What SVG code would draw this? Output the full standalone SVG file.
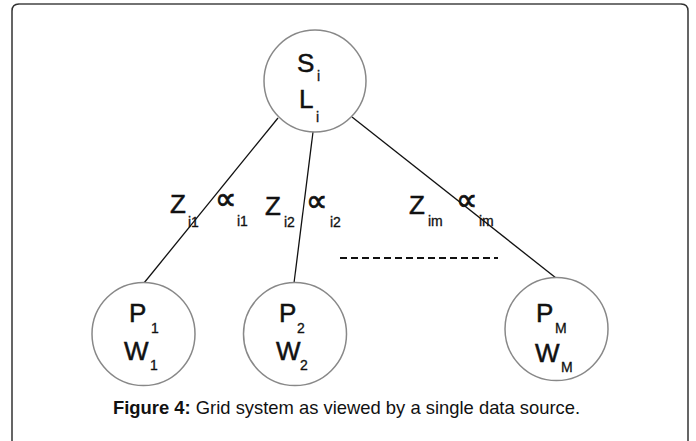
<svg xmlns="http://www.w3.org/2000/svg" width="696" height="441" viewBox="0 0 696 441">
<style>
.node{fill:#fff;stroke:#888;stroke-width:1.5}
.big{font-family:"Liberation Sans",Arial,sans-serif;font-size:26px;fill:#111;stroke:#111;stroke-width:0.5}
.sub{font-family:"Liberation Sans",Arial,sans-serif;font-size:14px;fill:#111;stroke:#111;stroke-width:0.3}
.prop{font-family:"DejaVu Sans",sans-serif;font-size:30px;fill:#111;stroke:#111;stroke-width:0.8}
.edge{stroke:#111;stroke-width:1.3;fill:none}
.cap{font-family:"Liberation Sans",Arial,sans-serif;font-size:18.4px;fill:#111}
</style>
<rect width="696" height="441" fill="#fff"/>
<path d="M12,441 V11 Q12,4 19,4 H681 Q688,4 688,11 V441" fill="none" stroke="#333" stroke-width="1.5"/>
<path d="M19,4 H681" stroke="#777" stroke-width="1.5"/>
<g id="connectors">
<line class="edge" x1="278" y1="118" x2="144" y2="283"/>
<line class="edge" x1="313" y1="132" x2="294" y2="283"/>
<line class="edge" x1="352" y1="117" x2="556" y2="278"/>
<line x1="340" y1="258" x2="498" y2="258" stroke="#111" stroke-width="2" stroke-dasharray="7,4"/>
</g>
<g id="labels">
<text class="big" x="170" y="213">Z</text><text class="sub" x="188" y="227">i1</text>
<text class="prop" x="215" y="209">∝</text><text class="sub" x="237" y="226">i1</text>
<text class="big" x="265" y="215">Z</text><text class="sub" x="284" y="227">i2</text>
<text class="prop" x="306" y="211">∝</text><text class="sub" x="330" y="227">i2</text>
<text class="big" x="409" y="214">Z</text><text class="sub" x="428" y="226">im</text>
<text class="prop" x="456" y="210">∝</text><text class="sub" x="479" y="226">im</text>
</g>
<g id="node-S">
<circle class="node" cx="315" cy="81" r="51"/>
<text class="big" x="297" y="72">S</text><text class="sub" x="317" y="81">i</text>
<text class="big" x="299" y="108">L</text><text class="sub" x="316" y="122">i</text>
</g>
<g id="node-P1">
<circle class="node" cx="143.5" cy="334" r="51.5"/>
<text class="big" x="129" y="322">P</text><text class="sub" x="151" y="333">1</text>
<text class="big" x="124" y="360">W</text><text class="sub" x="150" y="370">1</text>
</g>
<g id="node-P2">
<circle class="node" cx="295" cy="334" r="51.5"/>
<text class="big" x="279" y="322">P</text><text class="sub" x="297" y="333">2</text>
<text class="big" x="276" y="360">W</text><text class="sub" x="300" y="370">2</text>
</g>
<g id="node-PM">
<circle class="node" cx="556.5" cy="329" r="51.5"/>
<text class="big" x="536" y="322">P</text><text class="sub" x="555" y="333" font-size="12">M</text>
<text class="big" x="535" y="362">W</text><text class="sub" x="561" y="372" font-size="12">M</text>
</g>
<text class="cap" x="113" y="414"><tspan font-weight="bold">Figure 4:</tspan> Grid system as viewed by a single data source.</text>
</svg>
